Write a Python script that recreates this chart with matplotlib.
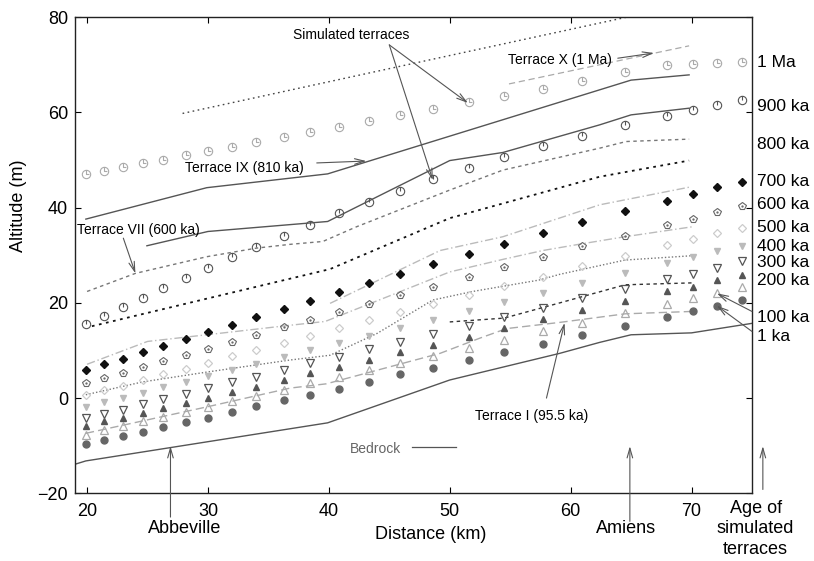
import matplotlib
matplotlib.use('Agg')
import matplotlib.pyplot as plt
import matplotlib.transforms as mtransforms
from matplotlib.path import Path

plt.rcParams['font.family'] = ['Liberation Sans', 'DejaVu Sans']

### simulated terraces (markers), same distances for every age
dist = [19.9, 21.4, 23.0, 24.6, 26.3, 28.2, 30.0, 32.0, 34.0, 36.3, 38.4, 40.8,
        43.3, 45.9, 48.6, 51.6, 54.5, 57.7, 60.9, 64.5, 68.0, 70.1, 72.1, 74.2]
sim_1ka = [-9.6, -8.8, -8.0, -7.1, -6.1, -5.1, -4.1, -2.9, -1.7, -0.5, 0.7, 2.0,
           3.4, 5.0, 6.4, 8.0, 9.6, 11.4, 13.3, 15.1, 17.1, 18.2, 19.3, 20.6]
sim_100ka = [-7.7, -6.8, -5.8, -4.9, -3.9, -2.9, -1.8, -0.7, 0.5, 1.7, 3.1, 4.4,
             5.8, 7.4, 8.8, 10.5, 12.1, 14.0, 15.8, 17.8, 19.8, 21.0, 22.0, 23.3]
sim_200ka = [-5.8, -4.9, -4.1, -3.1, -2.0, -1.0, 0.1, 1.2, 2.4, 3.7, 5.2, 6.6,
             8.0, 9.6, 11.2, 12.9, 14.7, 16.6, 18.5, 20.5, 22.4, 23.4, 24.8, 25.9]
sim_300ka = [-4.1, -3.3, -2.4, -1.2, -0.1, 0.9, 2.1, 3.3, 4.5, 5.9, 7.3, 8.7,
             10.3, 11.8, 13.5, 15.2, 17.0, 18.9, 21.0, 22.9, 25.0, 26.1, 27.3, 28.9]
sim_400ka = [-1.8, -0.9, 0.1, 1.1, 2.3, 3.4, 4.6, 5.9, 7.2, 8.6, 10.1, 11.6,
             13.1, 14.7, 16.4, 18.3, 20.1, 22.0, 24.1, 26.2, 28.3, 29.6, 30.8, 32.0]
sim_500ka = [0.7, 1.6, 2.6, 3.8, 5.0, 6.1, 7.4, 8.8, 10.1, 11.6, 13.1, 14.8,
             16.4, 18.1, 19.8, 21.7, 23.6, 25.5, 27.7, 29.9, 32.2, 33.4, 34.6, 35.8]
sim_600ka = [3.1, 4.2, 5.3, 6.5, 7.8, 9.1, 10.3, 11.7, 13.3, 14.9, 16.4, 18.1,
             19.8, 21.7, 23.4, 25.5, 27.5, 29.7, 32.0, 34.1, 36.4, 37.6, 39.0, 40.4]
sim_700ka = [5.8, 7.1, 8.2, 9.6, 11.0, 12.4, 13.8, 15.4, 17.0, 18.8, 20.5, 22.3,
             24.1, 26.1, 28.1, 30.3, 32.4, 34.6, 36.9, 39.2, 41.5, 42.9, 44.3, 45.5]
sim_900ka = [15.6, 17.3, 19.2, 21.1, 23.2, 25.2, 27.4, 29.7, 31.8, 34.1, 36.4, 38.8,
             41.2, 43.6, 46.0, 48.3, 50.6, 53.0, 55.1, 57.4, 59.3, 60.5, 61.6, 62.6]
sim_1Ma = [47.0, 47.8, 48.5, 49.3, 50.1, 51.0, 51.9, 52.8, 53.8, 54.8, 55.8, 57.0,
           58.2, 59.4, 60.7, 62.1, 63.5, 65.0, 66.6, 68.4, 70.0, 70.2, 70.3, 70.5]

### field terraces (lines)
top_x = [27.9, 64.6]
top_y = [59.8, 80.0]
terX_x = [54.9, 69.8]
terX_y = [66.0, 74.0]
terIX_x = [19.9, 29.9, 39.9, 65.0, 69.8]
terIX_y = [37.6, 44.2, 47.1, 66.8, 67.9]
terVIII_x = [24.95, 30.0, 39.9, 50.0, 54.4, 62.4, 65.0, 69.8]
terVIII_y = [32.0, 35.0, 37.1, 49.9, 51.6, 57.4, 59.5, 60.9]
terVII_x = [20.0, 24.0, 29.9, 34.0, 36.8, 39.5, 42.3, 50.0, 54.4, 62.4, 64.6, 69.8]
terVII_y = [22.4, 26.2, 29.7, 31.5, 32.3, 32.9, 36.0, 43.7, 47.9, 52.5, 53.9, 54.4]
terVI_x = [20.4, 40.1, 50.0, 62.4, 69.8]
terVI_y = [15.1, 27.1, 37.8, 46.5, 49.9]
terV_x = [40.1, 49.2, 54.4, 62.4, 70.0]
terV_y = [19.9, 31.0, 33.9, 40.6, 44.4]
terIV_x = [20.0, 25.0, 29.9, 36.8, 39.7, 50.0, 54.5, 57.7, 60.9, 64.5, 70.1]
terIV_y = [7.1, 11.9, 13.3, 15.3, 16.1, 26.5, 29.2, 31.0, 32.4, 33.9, 36.0]
terIII_x = [19.9, 24.6, 30.0, 36.8, 40.1, 44.0, 48.6, 51.9, 57.4, 59.1, 64.5, 70.0]
terIII_y = [0.7, 3.4, 5.5, 8.0, 9.0, 13.6, 20.6, 22.4, 24.8, 26.0, 29.0, 29.9]
terII_x = [50.0, 54.5, 59.1, 64.5, 70.0]
terII_y = [16.0, 16.8, 20.0, 23.8, 24.2]
terI_x = [19.9, 30.0, 36.8, 39.8, 49.2, 52.5, 54.7, 59.1, 64.5, 70.0]
terI_y = [-7.4, -1.8, 2.1, 3.0, 9.4, 12.6, 14.6, 15.9, 17.7, 18.2]
bed_x = [19.0, 19.9, 39.9, 50.0, 59.1, 62.4, 65.0, 70.0, 75.0]
bed_y = [-13.9, -13.2, -5.2, 3.8, 9.4, 11.7, 13.3, 13.7, 15.7]

age_labels = ['1 Ma', '900 ka', '800 ka', '700 ka', '600 ka', '500 ka',
              '400 ka', '300 ka', '200 ka', '100 ka', '1 ka']
age_label_y = [70.4, 61.2, 53.2, 45.4, 40.6, 35.9, 31.9, 28.5, 24.8, 17.0, 13.0]

# clock-like circle markers
circ = Path.unit_circle()
clock1 = Path.make_compound_path(circ, Path([(0, 0), (0, 1)], [Path.MOVETO, Path.LINETO]))
clock2 = Path.make_compound_path(circ, Path([(0, 1), (0, 0), (0.7, 0.0)],
                                            [Path.MOVETO, Path.LINETO, Path.LINETO]))

fig = plt.figure(figsize=(8.14, 5.61), dpi=100)
ax = fig.add_axes([0.0921, 0.1207, 0.8317, 0.8485])

ax.plot(top_x, top_y, color='#444444', lw=1.0, ls=(0, (1.2, 2.5)))
ax.plot(terX_x, terX_y, color='#aaaaaa', lw=0.9, ls=(0, (5, 3)))
ax.plot(terIX_x, terIX_y, color='#555555', lw=1.0)
ax.plot(terVIII_x, terVIII_y, color='#555555', lw=1.0)
ax.plot(terVII_x, terVII_y, color='#777777', lw=1.0, ls=(0, (2.5, 2.5)))
ax.plot(terVI_x, terVI_y, color='#111111', lw=1.3, ls=(0, (1.5, 2.5)))
ax.plot(terV_x, terV_y, color='#bbbbbb', lw=1.0, ls=(0, (6, 2, 1, 2)))
ax.plot(terIV_x, terIV_y, color='#bbbbbb', lw=1.0, ls=(0, (6, 2, 1, 2)))
ax.plot(terIII_x, terIII_y, color='#777777', lw=1.0, ls=(0, (1, 1.5)))
ax.plot(terII_x, terII_y, color='#333333', lw=1.0, ls=(0, (2.5, 2.5)))
ax.plot(terI_x, terI_y, color='#aaaaaa', lw=1.0, ls=(0, (6, 3)))
ax.plot(bed_x, bed_y, color='#555555', lw=1.0)

ax.plot(dist, sim_1ka, 'o', color='#666666', ms=5, ls='none')
ax.plot(dist, sim_100ka, '^', mfc='none', mec='#aaaaaa', mew=0.9, ms=5.2, ls='none')
ax.plot(dist, sim_200ka, '^', color='#555555', ms=4.3, ls='none')
ax.plot(dist, sim_300ka, 'v', mfc='none', mec='#555555', mew=0.9, ms=5.2, ls='none')
ax.plot(dist, sim_400ka, 'v', color='#bbbbbb', ms=4.5, ls='none')
ax.plot(dist, sim_500ka, 'D', mfc='none', mec='#cccccc', mew=0.9, ms=4.3, ls='none')
ax.plot(dist, sim_600ka, 'p', mfc='none', mec='#666666', mew=0.8, ms=5.5, ls='none')
ax.plot(dist, sim_600ka, '.', color='#666666', ms=1.3, ls='none')
ax.plot(dist, sim_700ka, 'D', color='#111111', ms=3.6, ls='none')
ax.plot(dist, sim_900ka, marker=clock1, mfc='none', mec='#555555', mew=0.8, ms=6, ls='none')
ax.plot(dist, sim_1Ma, marker=clock2, mfc='none', mec='#aaaaaa', mew=0.8, ms=6, ls='none')

ax.set_xlim(19, 75)
ax.set_ylim(-20, 80)
ax.set_xticks([20, 30, 40, 50, 60, 70])
ax.set_yticks([-20, 0, 20, 40, 60, 80])
ax.tick_params(direction='in', top=True, right=True, length=4.5, width=0.8, labelsize=13)
ax.tick_params(axis='x', pad=7)
ax.tick_params(axis='y', pad=5)
for s in ax.spines.values():
    s.set_linewidth(1.0)
    s.set_color('#222222')

trans = mtransforms.blended_transform_factory(ax.transAxes, ax.transData)
for lab, yy in zip(age_labels, age_label_y):
    ax.text(1.007, yy, lab, transform=trans, fontsize=12.5, ha='left', va='center')
ax.text(-0.084, 40.5, 'Altitude (m)', transform=trans, rotation=90, fontsize=13,
        ha='center', va='center')
ax.text(48.4, -28.7, 'Distance (km)', fontsize=13, ha='center', va='center')

arr = dict(arrowstyle='->,head_length=0.7,head_width=0.2', color='#555555', lw=0.8,
           shrinkA=0, shrinkB=0)

ax.text(37.0, 76.3, 'Simulated terraces', fontsize=10, ha='left', va='center')
ax.annotate('', xy=(51.5, 62.0), xytext=(45.0, 74.2), arrowprops=arr)
ax.annotate('', xy=(48.6, 45.8), xytext=(45.0, 74.2), arrowprops=arr)
ax.text(54.8, 71.0, 'Terrace X (1 Ma)', fontsize=10, ha='left', va='center')
ax.annotate('', xy=(66.9, 72.5), xytext=(63.9, 71.4), arrowprops=arr)
ax.text(28.1, 48.3, 'Terrace IX (810 ka)', fontsize=10, ha='left', va='center')
ax.annotate('', xy=(43.1, 49.8), xytext=(39.0, 49.4), arrowprops=arr)
ax.text(19.2, 35.3, 'Terrace VII (600 ka)', fontsize=10, ha='left', va='center')
ax.annotate('', xy=(24.0, 26.2), xytext=(23.0, 33.6), arrowprops=arr)
ax.text(52.1, -3.7, 'Terrace I (95.5 ka)', fontsize=10, ha='left', va='center')
ax.annotate('', xy=(59.5, 15.8), xytext=(58.0, 0.0), arrowprops=arr)
ax.text(41.7, -10.6, 'Bedrock', fontsize=10, color='#666666', ha='left', va='center')
ax.plot([46.9, 50.5], [-10.3, -10.3], color='#555555', lw=0.9)

# arrows from the right labels
ax.annotate('', xy=(72.1, 22.0), xytext=(75.0, 18.2), arrowprops=arr, annotation_clip=False)
ax.annotate('', xy=(72.1, 19.4), xytext=(75.0, 14.0), arrowprops=arr, annotation_clip=False)

# places under the axis
ax.text(28.1, -27.3, 'Abbeville', fontsize=13, ha='center', va='center')
ax.annotate('', xy=(26.9, -10.1), xytext=(26.9, -25.0), arrowprops=arr, annotation_clip=False)
ax.text(64.6, -27.3, 'Amiens', fontsize=13, ha='center', va='center')
ax.annotate('', xy=(64.9, -10.1), xytext=(64.9, -25.9), arrowprops=arr, annotation_clip=False)
ax.text(75.3, -27.5, 'Age of\nsimulated\nterraces', fontsize=13, ha='center', va='center',
        multialignment='center', linespacing=1.25)
ax.annotate('', xy=(75.9, -10.1), xytext=(75.9, -19.2), arrowprops=arr, annotation_clip=False)

plt.savefig('out.png', dpi=100)
